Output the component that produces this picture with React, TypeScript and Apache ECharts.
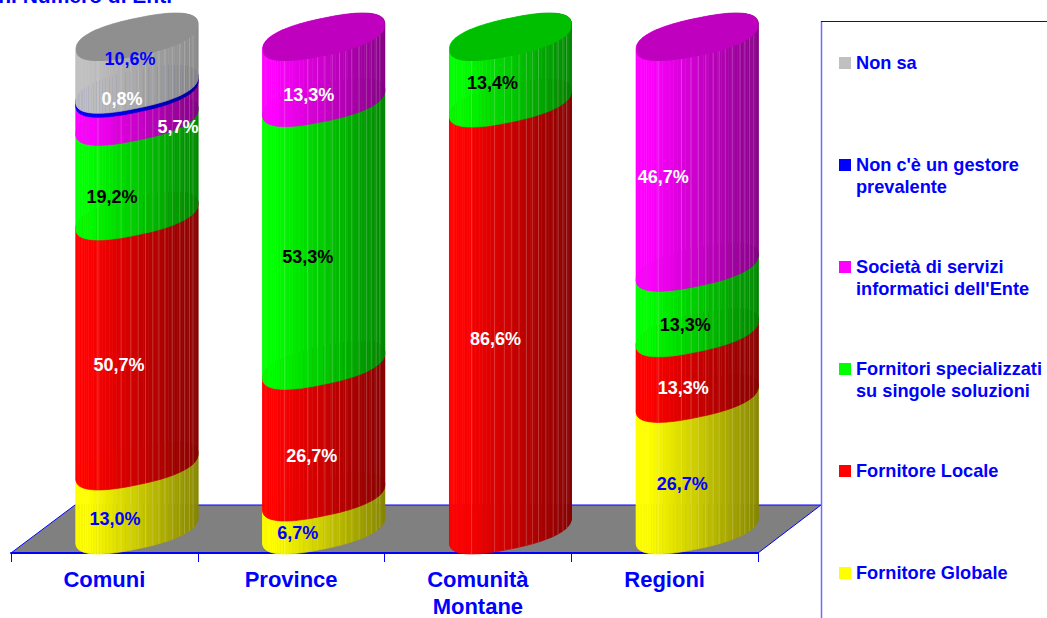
import React, { useEffect, useRef } from "react";
import * as echarts from "echarts";

const categories = ["Comuni", "Province", "Comunità\nMontane", "Regioni"];
const seriesNames = [
  "Fornitore Globale",
  "Fornitore Locale",
  "Fornitori specializzati\nsu singole soluzioni",
  "Società di servizi\ninformatici dell'Ente",
  "Non c'è un gestore\nprevalente",
  "Non sa",
];
const fornitoreGlobale = [13.0, 6.7, 0, 26.7];
const fornitoreLocale = [50.7, 26.7, 86.6, 13.3];
const fornitoriSpecializzati = [19.2, 53.3, 13.4, 13.3];
const societaServizi = [5.7, 13.3, 0, 46.7];
const nonGestore = [0.8, 0, 0, 0];
const nonSa = [10.6, 0, 0, 0];
const allValues = [fornitoreGlobale, fornitoreLocale, fornitoriSpecializzati, societaServizi, nonGestore, nonSa];

const seriesColors = [
  [255, 255, 0],
  [255, 0, 0],
  [0, 255, 0],
  [255, 0, 255],
  [0, 0, 255],
  [192, 192, 192],
];
const labelColors = ["#0000ff", "#ffffff", "#000000", "#ffffff", "#ffffff", "#0000ff"];
// manual label nudges from the cylinder centre at the segment's middle [series][category]
const labelNudges: Record<string, [number, number]> = {
  "0-0": [-22, 21], "1-0": [-18, 24], "2-0": [-25, 28], "3-0": [41, 20], "4-0": [-15, 8], "5-0": [-7, -4],
  "0-1": [-26, 20], "1-1": [-12, 25], "2-1": [-16, 23], "3-1": [-15, 25],
  "1-2": [-15, 22], "2-2": [-18, 13],
  "0-3": [-15, 20], "1-3": [-14, 22], "2-3": [-12, 25], "3-3": [-34, 25],
};
// light seams on the cylinder surface, as fractions of its width
const seamFractions = [0.18, 0.37, 0.45, 0.51, 0.57, 0.63, 0.68, 0.73, 0.79, 0.85, 0.89, 0.93, 0.96];

const FONT = "'Liberation Sans', Arial, sans-serif";
const BLUE = "#0000ff";
const A = 61; // half width of a cylinder
const B = 19; // half height of its end ellipse
const SHEAR = 0.205;
const ROUND = 0.82; // superellipse exponent of the end caps
const DEPTH_X = 32.6; // depth shift of the cylinders from the band centre
const DEPTH_Y = 23;
const FACETS = 48;

const shade = (rgb: number[], k: number) => `rgb(${rgb.map((c) => Math.round(c * k)).join(",")})`;
const spow = (v: number) => Math.sign(v) * Math.pow(Math.abs(v), ROUND);

function ellipsePoint(cx: number, cy: number, t: number): number[] {
  const dx = A * spow(Math.cos(t));
  return [cx + dx, cy - SHEAR * dx + B * spow(Math.sin(t))];
}

function makeRenderItem(si: number) {
  const rgb = seriesColors[si];
  return (_: any, api: any) => {
    const cat = api.value(0);
    const base = api.value(1);
    const val = api.value(2);
    if (!val) return { type: "group", children: [] };
    const [x0, yb] = api.coord([cat, base]);
    const [, yt] = api.coord([cat, base + val]);
    const cx = x0 + DEPTH_X;
    const cyB = yb - DEPTH_Y;
    const cyT = yt - DEPTH_Y;
    const isTop = base + val >= 99.9;
    const children: any[] = [];
    for (let k = 0; k < FACETS; k++) {
      const t1 = Math.PI - (Math.PI * k) / FACETS;
      const t2 = Math.PI - (Math.PI * (k + 1)) / FACETS;
      const pm = ellipsePoint(cx, cyB, (t1 + t2) / 2);
      const u = (pm[0] - (cx - A)) / (2 * A);
      const bright = 1 - 0.47 * Math.max(0, (u - 0.1) / 0.9);
      const lo = si === 5 ? 0.72 + (0.28 * (bright - 0.53)) / 0.47 : si === 4 ? 0.6 + (0.4 * (bright - 0.53)) / 0.47 : bright;
      const fill = shade(rgb, lo);
      children.push({
        type: "polygon",
        shape: {
          points: [
            ellipsePoint(cx, cyB, t1),
            ellipsePoint(cx, cyB, t2),
            ellipsePoint(cx, cyT, -t2),
            ellipsePoint(cx, cyT, -t1),
          ],
        },
        style: { fill, stroke: fill, lineWidth: 0.6 },
      });
    }
    if (si !== 4) {
      for (const f of seamFractions) {
        const c = 2 * f - 1;
        const t = Math.acos(Math.sign(c) * Math.pow(Math.abs(c), 1 / ROUND));
        const p1 = ellipsePoint(cx, cyB, t);
        const p2 = ellipsePoint(cx, cyT, t);
        children.push({
          type: "line",
          shape: { x1: p1[0], y1: p1[1], x2: p2[0], y2: p2[1] },
          style: { stroke: "rgba(255,255,255,0.2)", lineWidth: 1 },
        });
      }
    }
    if (isTop) {
      const pts: number[][] = [];
      for (let i = 0; i < 96; i++) pts.push(ellipsePoint(cx, cyT, (i / 96) * Math.PI * 2));
      children.push({
        type: "polygon",
        shape: { points: pts },
        style: { fill: si === 5 ? "#8f8f8f" : shade(rgb, 0.75) },
      });
    }
    return { type: "group", children };
  };
}

function stackedRows(si: number) {
  return categories.map((_, c) => {
    let base = 0;
    for (let s = 0; s < si; s++) base += allValues[s][c];
    return [c, base, allValues[si][c]];
  });
}

const labelRows = seriesNames.flatMap((_, si) =>
  stackedRows(si)
    .filter((r) => r[2] > 0)
    .map((r) => [r[0], r[1] + r[2] / 2, r[2], si])
);

function renderLabel(_: any, api: any) {
  const cat = api.value(0);
  const si = api.value(3);
  const [x0, y] = api.coord([cat, api.value(1)]);
  const [dx, dy] = labelNudges[`${si}-${cat}`] || [-15, 20];
  return {
    type: "text",
    style: {
      x: x0 + DEPTH_X + dx,
      y: y - DEPTH_Y + dy,
      text: api.value(2).toFixed(1).replace(".", ",") + "%",
      fill: labelColors[si],
      font: `bold 18px ${FONT}`,
      align: "center",
      verticalAlign: "middle",
    },
  };
}

const legendOrder = [5, 4, 3, 2, 1, 0];
const legendGraphics = legendOrder.flatMap((si, i) => {
  const y = 63 + i * 102;
  return [
    { type: "rect", z: 10, shape: { x: 839, y: y - 6, width: 12, height: 12 }, style: { fill: shade(seriesColors[si], 1) } },
    {
      type: "text",
      z: 10,
      style: {
        x: 856,
        y: y - 11,
        text: seriesNames[si],
        fill: BLUE,
        font: `bold 18.2px ${FONT}`,
        lineHeight: 22,
        align: "left",
        verticalAlign: "top",
      },
    },
  ];
});

export default function App() {
  const ref = useRef<HTMLDivElement>(null);
  useEffect(() => {
    document.body.style.margin = "0";
    const chart = echarts.init(ref.current!, undefined, { renderer: "svg" });
    chart.setOption({
      animation: false,
      backgroundColor: "#ffffff",
      grid: { left: 11, width: 747, top: 60, height: 493, outerBoundsMode: "none", containLabel: false },
      xAxis: {
        type: "category",
        data: categories,
        boundaryGap: true,
        axisLine: { lineStyle: { color: BLUE, width: 2 } },
        axisTick: { show: true, length: 9, lineStyle: { color: BLUE, width: 1 } },
        axisLabel: {
          color: BLUE,
          fontFamily: FONT,
          fontWeight: "bold",
          fontSize: 22,
          lineHeight: 27,
          margin: 13,
          interval: 0,
        },
      },
      yAxis: { type: "value", min: 0, max: 100, show: false, splitLine: { show: false } },
      series: [
        ...seriesNames.map((name, si) => ({
          type: "custom",
          name,
          clip: false,
          silent: true,
          renderItem: makeRenderItem(si),
          encode: { x: 0, y: 1 },
          data: stackedRows(si),
        })),
        {
          type: "custom",
          name: "labels",
          z: 6,
          clip: false,
          silent: true,
          renderItem: renderLabel,
          encode: { x: 0, y: 1 },
          data: labelRows,
        },
      ],
      graphic: [
        {
          type: "polygon",
          z: -1,
          shape: { points: [[11, 553], [758, 553], [821, 505], [75, 505]] },
          style: { fill: "#808080", stroke: BLUE, lineWidth: 1 },
        },
        { type: "line", z: 9, shape: { x1: 821.5, y1: 21, x2: 821.5, y2: 618 }, style: { stroke: "#6b6bff", lineWidth: 1.5 } },
        { type: "line", z: 9, shape: { x1: 821, y1: 21.5, x2: 1047, y2: 21.5 }, style: { stroke: BLUE, lineWidth: 1 } },
        {
          type: "text",
          z: 9,
          style: { x: 172, y: 6, text: "n. Numero di Enti", fill: BLUE, font: `bold 21px ${FONT}`, align: "right", verticalAlign: "bottom" },
        },
        ...legendGraphics,
      ],
    });
    return () => chart.dispose();
  }, []);
  return <div ref={ref} style={{ position: "absolute", left: 0, top: 0, width: 1047, height: 618 }} />;
}
